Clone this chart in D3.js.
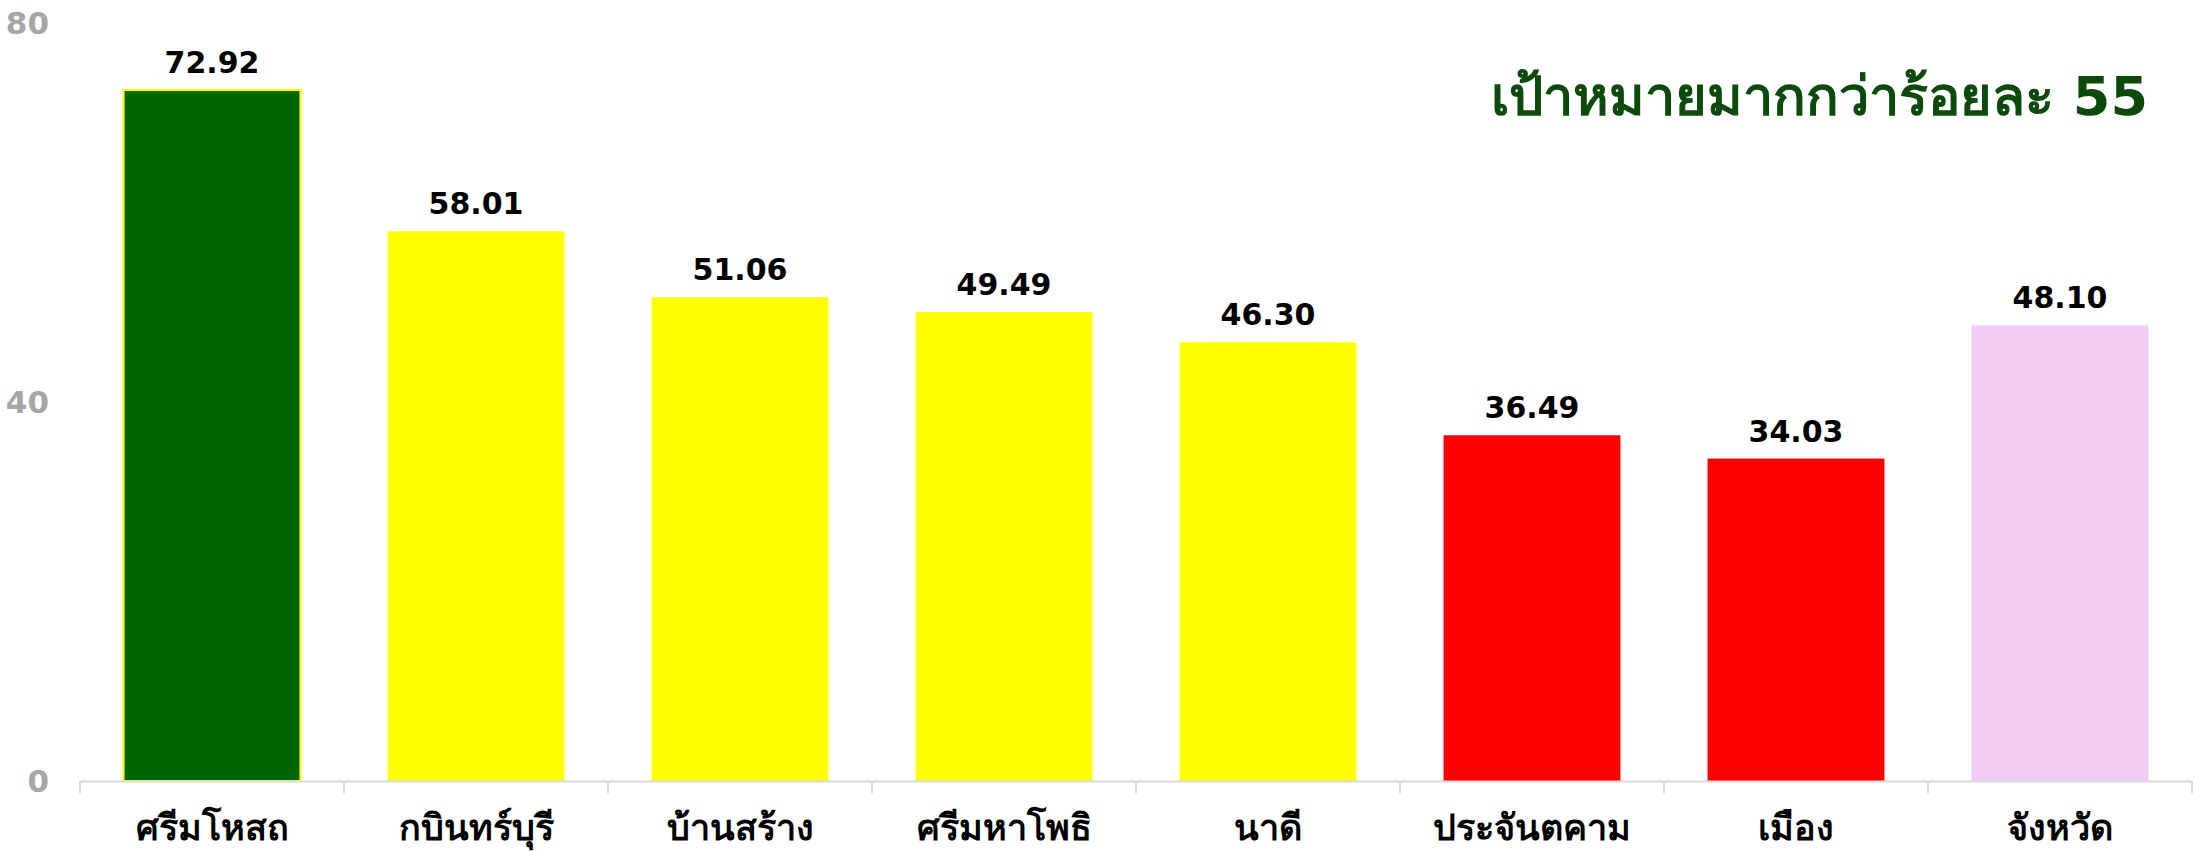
<!DOCTYPE html>
<html><head><meta charset="utf-8">
<script src="https://cdn.jsdelivr.net/npm/d3@7"></script>
<style>
html,body{margin:0;padding:0;background:#fff;}
svg{display:block;font-family:Tahoma,"DejaVu Sans","Noto Sans",sans-serif;}
</style></head>
<body>
<svg id="chart" width="2202" height="851"></svg>
<script>
const categories = ["ศรีมโหสถ","กบินทร์บุรี","บ้านสร้าง","ศรีมหาโพธิ","นาดี","ประจันตคาม","เมือง","จังหวัด"];
const values = [72.92, 58.01, 51.06, 49.49, 46.30, 36.49, 34.03, 48.10];
const barColors = ["#006400","#ffff00","#ffff00","#ffff00","#ffff00","#ff0000","#ff0000","#f2ccf5"];
const yTicks = [0, 40, 80];
const title = "เป้าหมายมากกว่าร้อยละ 55";

const svg = d3.select("#chart");
const margin = {left: 80, right: 10, top: 23, bottom: 70};
const W = 2202, H = 851;
const x = d3.scaleBand().domain(categories).range([margin.left, W - margin.right]).paddingInner(0.33).paddingOuter(0.165);
const y = d3.scaleLinear().domain([0, 80]).range([781, 23]);

// bars
svg.append("g").selectAll("rect").data(values).join("rect")
  .attr("x", (d,i) => x(categories[i]))
  .attr("y", d => y(d))
  .attr("width", x.bandwidth())
  .attr("height", d => y(0) - y(d))
  .attr("fill", (d,i) => barColors[i])
  .attr("stroke", (d,i) => i === 0 ? "#ffff00" : "none")
  .attr("stroke-width", 2);

// x axis
const step = (W - margin.right - margin.left) / categories.length;
const xa = svg.append("g");
xa.append("line").attr("x1", margin.left).attr("x2", W - margin.right)
  .attr("y1", y(0)+0.5).attr("y2", y(0)+0.5).attr("stroke", "#d9d9d9").attr("stroke-width", 2);
xa.selectAll("line.tk").data(d3.range(categories.length + 1)).join("line").attr("class","tk")
  .attr("x1", i => margin.left + i*step).attr("x2", i => margin.left + i*step)
  .attr("y1", y(0)).attr("y2", y(0)+12).attr("stroke", "#d9d9d9").attr("stroke-width", 2);
xa.selectAll("text").data(categories).join("text")
  .attr("x", d => x(d) + x.bandwidth()/2)
  .attr("y", 840)
  .attr("text-anchor", "middle")
  .attr("font-size", 36).attr("font-weight", "bold").attr("fill", "#000")
  .text(d => d);

// y labels
svg.append("g").selectAll("text").data(yTicks).join("text")
  .attr("x", 49).attr("y", d => y(d) + 11)
  .attr("text-anchor", "end")
  .attr("font-size", 31).attr("font-weight", "bold").attr("fill", "#a6a6a6")
  .text(d => d);

// value labels
svg.append("g").selectAll("text").data(values).join("text")
  .attr("x", (d,i) => x(categories[i]) + x.bandwidth()/2)
  .attr("y", d => y(d) - 17)
  .attr("text-anchor", "middle")
  .attr("font-size", 30).attr("font-weight", "bold").attr("fill", "#000")
  .text(d => d.toFixed(2));

// title
svg.append("text").attr("x", 2148).attr("y", 115)
  .attr("text-anchor", "end")
  .attr("font-size", 54).attr("font-weight", "bold").attr("fill", "#0b4a0b")
  .text(title);
</script>
</body></html>
